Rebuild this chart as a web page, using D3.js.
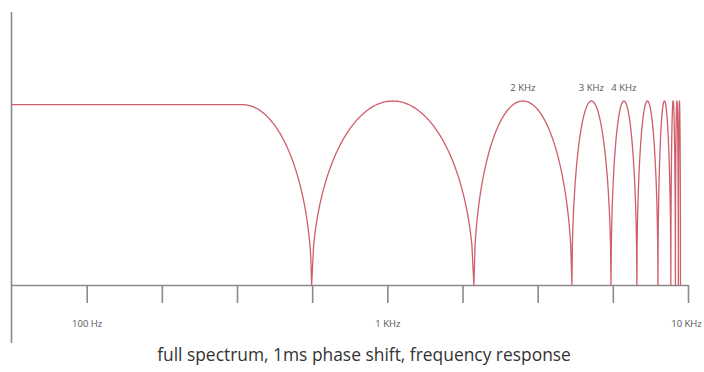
<!DOCTYPE html>
<html>
<head>
<meta charset="utf-8">
<script src="https://cdn.jsdelivr.net/npm/d3@7"></script>
<style>
  html, body { margin: 0; padding: 0; background: #fff; }
  svg { display: block; }
</style>
</head>
<body>
<svg id="chart" width="704" height="372"></svg>
<script>
// Frequency axis ticks (quarter-decade steps) and their labels
const tickHz = [100, 177.8, 316.2, 562.3, 1000, 1778, 3162, 5623, 10000];
const tickLabels = ["100 Hz", "", "", "", "1 KHz", "", "", "", "10 KHz"];

// Response: flat band up to flatEndHz, then comb lobes between nulls
const startHz = 56;
const flatEndHz = 330;
const flatLevel = 0.98;
const nullHz = [560, 1940, 4110, 5545, 6760, 7945, 8770, 9080, 9290, 9440];
const lobePeak = [1, 1, 1, 1, 1, 1, 1, 1, 1];

// Peak annotations: which lobe each label sits above
const peakLabels = ["2 KHz", "3 KHz", "4 KHz"];
const peakLabelLobe = [1, 2, 3];

const caption = "full spectrum, 1ms phase shift, frequency response";

const svg = d3.select("#chart");
const axisY = 285;

const x = d3.scaleLog().domain([startHz, 10000]).range([11, 688]);
const y = d3.scaleLinear().domain([0, 1]).range([axisY, 101]);

const axisColor = "#8a8a8a";
const curveColor = "#d05e6a";
const font = "'Open Sans', 'Noto Sans', sans-serif";

// Vertical axis line
svg.append("line")
  .attr("x1", 11.5).attr("x2", 11.5)
  .attr("y1", 12).attr("y2", 343)
  .attr("stroke", axisColor).attr("stroke-width", 1.6);

// Horizontal frequency axis
const xAxis = d3.axisBottom(x)
  .tickValues(tickHz)
  .tickFormat((d, i) => tickLabels[i])
  .tickSize(18)
  .tickSizeOuter(0)
  .tickPadding(17);

const gx = svg.append("g")
  .attr("transform", `translate(0,${axisY})`)
  .call(xAxis);
gx.select(".domain").attr("stroke", axisColor).attr("stroke-width", 1.6);
gx.selectAll(".tick line").attr("stroke", axisColor).attr("stroke-width", 1.6);
gx.selectAll(".tick text")
  .attr("fill", "#555")
  .style("font-family", font)
  .style("font-size", "9.5px");
// keep the last label inside the frame
gx.selectAll(".tick text").filter((d, i) => i === tickHz.length - 1).attr("dx", "-2");

// Build the response curve: flat band, quarter-ellipse roll-off, elliptical lobes
const pts = [];
const N = 80;
pts.push([x(startHz), y(flatLevel)]);
pts.push([x(flatEndHz), y(flatLevel)]);
{
  const a = x(flatEndHz), b = x(nullHz[0]);
  for (let i = 1; i <= N; i++) {
    const u = i / N;
    pts.push([a + u * (b - a), y(flatLevel * Math.sqrt(Math.max(0, 1 - u * u)))]);
  }
}
const lobeCenters = [];
for (let k = 0; k < nullHz.length - 1; k++) {
  const a = x(nullHz[k]), b = x(nullHz[k + 1]);
  const c = (a + b) / 2, h = (b - a) / 2;
  lobeCenters.push(c);
  for (let i = 1; i <= N; i++) {
    const u = -1 + 2 * i / N;
    pts.push([c + u * h, y(lobePeak[k] * Math.sqrt(Math.max(0, 1 - u * u)))]);
  }
}

svg.append("path")
  .attr("d", d3.line()(pts))
  .attr("fill", "none")
  .attr("stroke", curveColor)
  .attr("stroke-width", 1.3)
  .attr("stroke-linejoin", "round");

// Peak labels
svg.selectAll("text.peak")
  .data(peakLabels)
  .join("text")
  .attr("class", "peak")
  .attr("x", (d, i) => lobeCenters[peakLabelLobe[i]])
  .attr("y", (d, i) => y(lobePeak[peakLabelLobe[i]]) - 10)
  .attr("text-anchor", "middle")
  .attr("fill", "#555")
  .style("font-family", font)
  .style("font-size", "9.5px")
  .text(d => d);

// Caption
svg.append("text")
  .attr("x", 364)
  .attr("y", 361)
  .attr("text-anchor", "middle")
  .attr("fill", "#333")
  .style("font-family", font)
  .style("font-size", "17.4px")
  .text(caption);
</script>
</body>
</html>
